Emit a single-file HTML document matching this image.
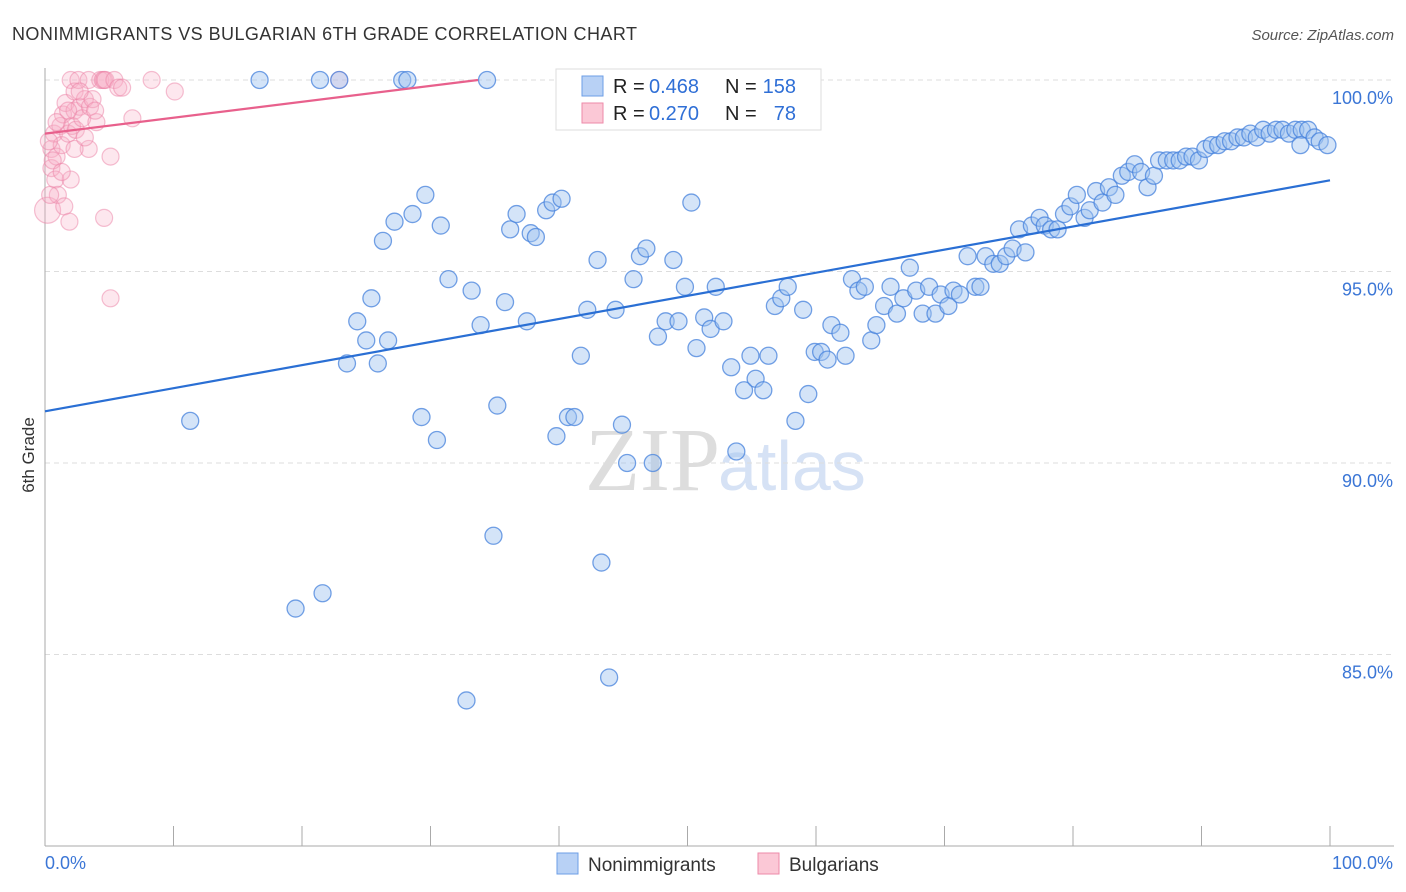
<!DOCTYPE html>
<html><head><meta charset="utf-8"><style>
body{margin:0;background:#fff;font-family:"Liberation Sans",sans-serif;}
svg{display:block}
</style></head><body>
<svg id="chart" width="1406" height="892">
<text x="12" y="40" font-size="18" fill="#333" textLength="625">NONIMMIGRANTS VS BULGARIAN 6TH GRADE CORRELATION CHART</text>
<text x="1394" y="40" font-size="15" fill="#555" font-style="italic" text-anchor="end">Source: ZipAtlas.com</text>
<text x="34" y="455" font-size="17" fill="#333" transform="rotate(-90 34 455)" text-anchor="middle">6th Grade</text>
<text x="720" y="490" font-size="90" fill="#ddd" text-anchor="end" font-family="Liberation Serif">ZIP</text>
<text x="718" y="490" font-size="70" fill="#d6e2f5">atlas</text>
<g id="grid"></g><g id="axes"></g><g id="pink"></g><g id="blue"></g><g id="lines"></g>
<g>
<rect x="556" y="69" width="265" height="61" fill="#fff" stroke="#ddd"/>
<rect x="582" y="76" width="21" height="20" fill="#b8d1f5" stroke="#6c9ee6"/>
<rect x="582" y="103" width="21" height="20" fill="#fbc8d6" stroke="#ee8aa8"/>
<text x="613" y="93" font-size="20" fill="#222">R =</text>
<text x="649" y="93" font-size="20" fill="#2f6fd6">0.468</text>
<text x="725" y="93" font-size="20" fill="#222">N =</text>
<text x="796" y="93" font-size="20" fill="#2f6fd6" text-anchor="end">158</text>
<text x="613" y="120" font-size="20" fill="#222">R =</text>
<text x="649" y="120" font-size="20" fill="#2f6fd6">0.270</text>
<text x="725" y="120" font-size="20" fill="#222">N =</text>
<text x="796" y="120" font-size="20" fill="#2f6fd6" text-anchor="end">78</text>
</g>
<g>
<rect x="557" y="853" width="21" height="21" fill="#b8d1f5" stroke="#6c9ee6"/>
<text x="588" y="871" font-size="19" fill="#333">Nonimmigrants</text>
<rect x="758" y="853" width="21" height="21" fill="#fbc8d6" stroke="#ee8aa8"/>
<text x="789" y="871" font-size="19" fill="#333">Bulgarians</text>
</g>
</svg>
<script>
const yTicks=[100,95,90,85];
const yTickLabels=["100.0%","95.0%","90.0%","85.0%"];
const xTickLabels=["0.0%","100.0%"];
const blueX=[11.3,16.7,21.4,22.9,27.8,28.2,34.4,19.5,21.6,32.8,34.9,43.3,43.9,23.5,25.9,24.3,25.0,26.7,25.4,26.3,27.2,28.6,29.6,30.8,31.4,33.2,33.9,35.8,37.5,36.2,36.7,37.8,38.2,39.0,39.5,40.2,29.3,30.5,35.2,39.8,40.7,41.2,41.7,42.2,43.0,44.4,44.9,45.3,47.3,45.8,46.3,46.8,47.7,48.3,49.3,48.9,49.8,50.3,50.7,51.3,51.8,52.2,52.8,53.4,53.8,54.4,54.9,55.3,55.9,56.3,56.8,57.3,57.8,58.4,59.0,59.4,59.9,60.4,60.9,61.2,61.9,62.3,62.8,63.3,63.8,64.3,64.7,65.3,65.8,66.3,66.8,67.3,67.8,68.3,68.8,69.3,69.7,70.3,70.7,71.2,71.8,72.4,72.8,73.2,73.8,74.3,74.8,75.3,75.8,76.3,76.8,77.4,77.8,78.3,78.8,79.3,79.8,80.3,80.9,81.3,81.8,82.3,82.8,83.3,83.8,84.3,84.8,85.3,85.8,86.3,86.7,87.3,87.8,88.3,88.8,89.3,89.8,90.3,90.8,91.3,91.8,92.3,92.8,93.3,93.8,94.3,94.8,95.3,95.8,96.3,96.8,97.3,97.8,98.3,98.8,99.2,99.8,97.7];
const blueY=[91.1,100,100,100,100,100,100,86.2,86.6,83.8,88.1,87.4,84.4,92.6,92.6,93.7,93.2,93.2,94.3,95.8,96.3,96.5,97.0,96.2,94.8,94.5,93.6,94.2,93.7,96.1,96.5,96.0,95.9,96.6,96.8,96.9,91.2,90.6,91.5,90.7,91.2,91.2,92.8,94.0,95.3,94.0,91.0,90.0,90.0,94.8,95.4,95.6,93.3,93.7,93.7,95.3,94.6,96.8,93.0,93.8,93.5,94.6,93.7,92.5,90.3,91.9,92.8,92.2,91.9,92.8,94.1,94.3,94.6,91.1,94.0,91.8,92.9,92.9,92.7,93.6,93.4,92.8,94.8,94.5,94.6,93.2,93.6,94.1,94.6,93.9,94.3,95.1,94.5,93.9,94.6,93.9,94.4,94.1,94.5,94.4,95.4,94.6,94.6,95.4,95.2,95.2,95.4,95.6,96.1,95.5,96.2,96.4,96.2,96.1,96.1,96.5,96.7,97.0,96.4,96.6,97.1,96.8,97.2,97.0,97.5,97.6,97.8,97.6,97.2,97.5,97.9,97.9,97.9,97.9,98.0,98.0,97.9,98.2,98.3,98.3,98.4,98.4,98.5,98.5,98.6,98.5,98.7,98.6,98.7,98.7,98.6,98.7,98.7,98.7,98.5,98.4,98.3,98.3];
const pinkX=[0.2,0.5,0.5,0.7,0.8,0.9,1.0,1.2,1.3,1.4,1.5,1.6,1.8,1.9,2.0,2.0,2.1,2.3,2.3,2.4,2.6,2.7,2.9,3.1,3.4,3.4,3.5,3.7,4.0,4.3,4.5,4.6,4.7,5.1,5.1,4.6,5.4,5.7,6.0,6.8,8.3,10.1,22.9,0.4,0.6,0.9,0.3,1.3,2.3,3.1,3.9,2.7,1.8];
const pinkY=[96.6,97.7,98.2,98.6,97.4,98.0,97.0,98.8,98.3,99.1,96.7,99.4,98.6,96.3,97.4,100,98.8,99.2,99.7,98.7,100,99.3,99.0,99.5,100,98.2,99.3,99.5,98.9,100,100,100,100,98.0,94.3,96.4,100,99.8,99.8,99.0,100,99.7,100,97.0,97.9,98.9,98.4,97.6,98.2,98.5,99.2,99.7,99.2];
const blueLine=[[0,91.35],[100,97.38]];
const pinkLine=[[0,98.6],[33.7,100]];
const X=v=>45+v*12.85, Y=v=>80+(100-v)*38.3;
const NS="http://www.w3.org/2000/svg";
function mk(t,a,p){const e=document.createElementNS(NS,t);for(const k in a)e.setAttribute(k,a[k]);p.appendChild(e);return e;}
const grid=document.getElementById('grid'),axes=document.getElementById('axes');
yTicks.forEach((t,i)=>{
 const l=mk('line',{x1:45,x2:1394,y1:Y(t),y2:Y(t),stroke:'#ddd','stroke-dasharray':'5,4'},grid);
 
 
 const tx=mk('text',{x:1393,y:Y(t)+24,'font-size':18,fill:'#3b76d6','text-anchor':'end'},axes);
 tx.textContent=yTickLabels[i];
 
 
});
const ax=mk('line',{x1:45,x2:45,y1:68,y2:846,stroke:'#aaa'},axes);


const bx=mk('line',{x1:45,x2:1394,y1:846,y2:846,stroke:'#aaa'},axes);


for(let i=0;i<=10;i++){const tk=mk('line',{x1:X(i*10),x2:X(i*10),y1:826,y2:846,stroke:'#aaa'},axes);
 
 }
const xl0=mk('text',{x:45,y:869,'font-size':18,fill:'#3b76d6'},axes);xl0.textContent=xTickLabels[0];


const xl1=mk('text',{x:1393,y:869,'font-size':18,fill:'#3b76d6','text-anchor':'end'},axes);xl1.textContent=xTickLabels[1];


const pg=document.getElementById('pink'),bg=document.getElementById('blue');
pinkX.forEach((x,i)=>{const c=mk('circle',{cx:X(x),cy:Y(pinkY[i]),r:i==0?13:8.5,fill:'rgba(248,175,200,0.3)',stroke:'rgba(235,130,165,0.5)','stroke-width':1.2},pg);
 
 });
blueX.forEach((x,i)=>{const c=mk('circle',{cx:X(x),cy:Y(blueY[i]),r:8.5,fill:'rgba(160,196,240,0.45)',stroke:'rgba(70,130,220,0.75)','stroke-width':1.3},bg);
 
 });
const lg=document.getElementById('lines');
const b=mk('line',{x1:X(blueLine[0][0]),y1:Y(blueLine[0][1]),x2:X(blueLine[1][0]),y2:Y(blueLine[1][1]),stroke:'#2a6fd4','stroke-width':2.2},lg);


const p=mk('line',{x1:X(pinkLine[0][0]),y1:Y(pinkLine[0][1]),x2:X(pinkLine[1][0]),y2:Y(pinkLine[1][1]),stroke:'#e8608c','stroke-width':2.2},lg);


</script>
</body></html>
